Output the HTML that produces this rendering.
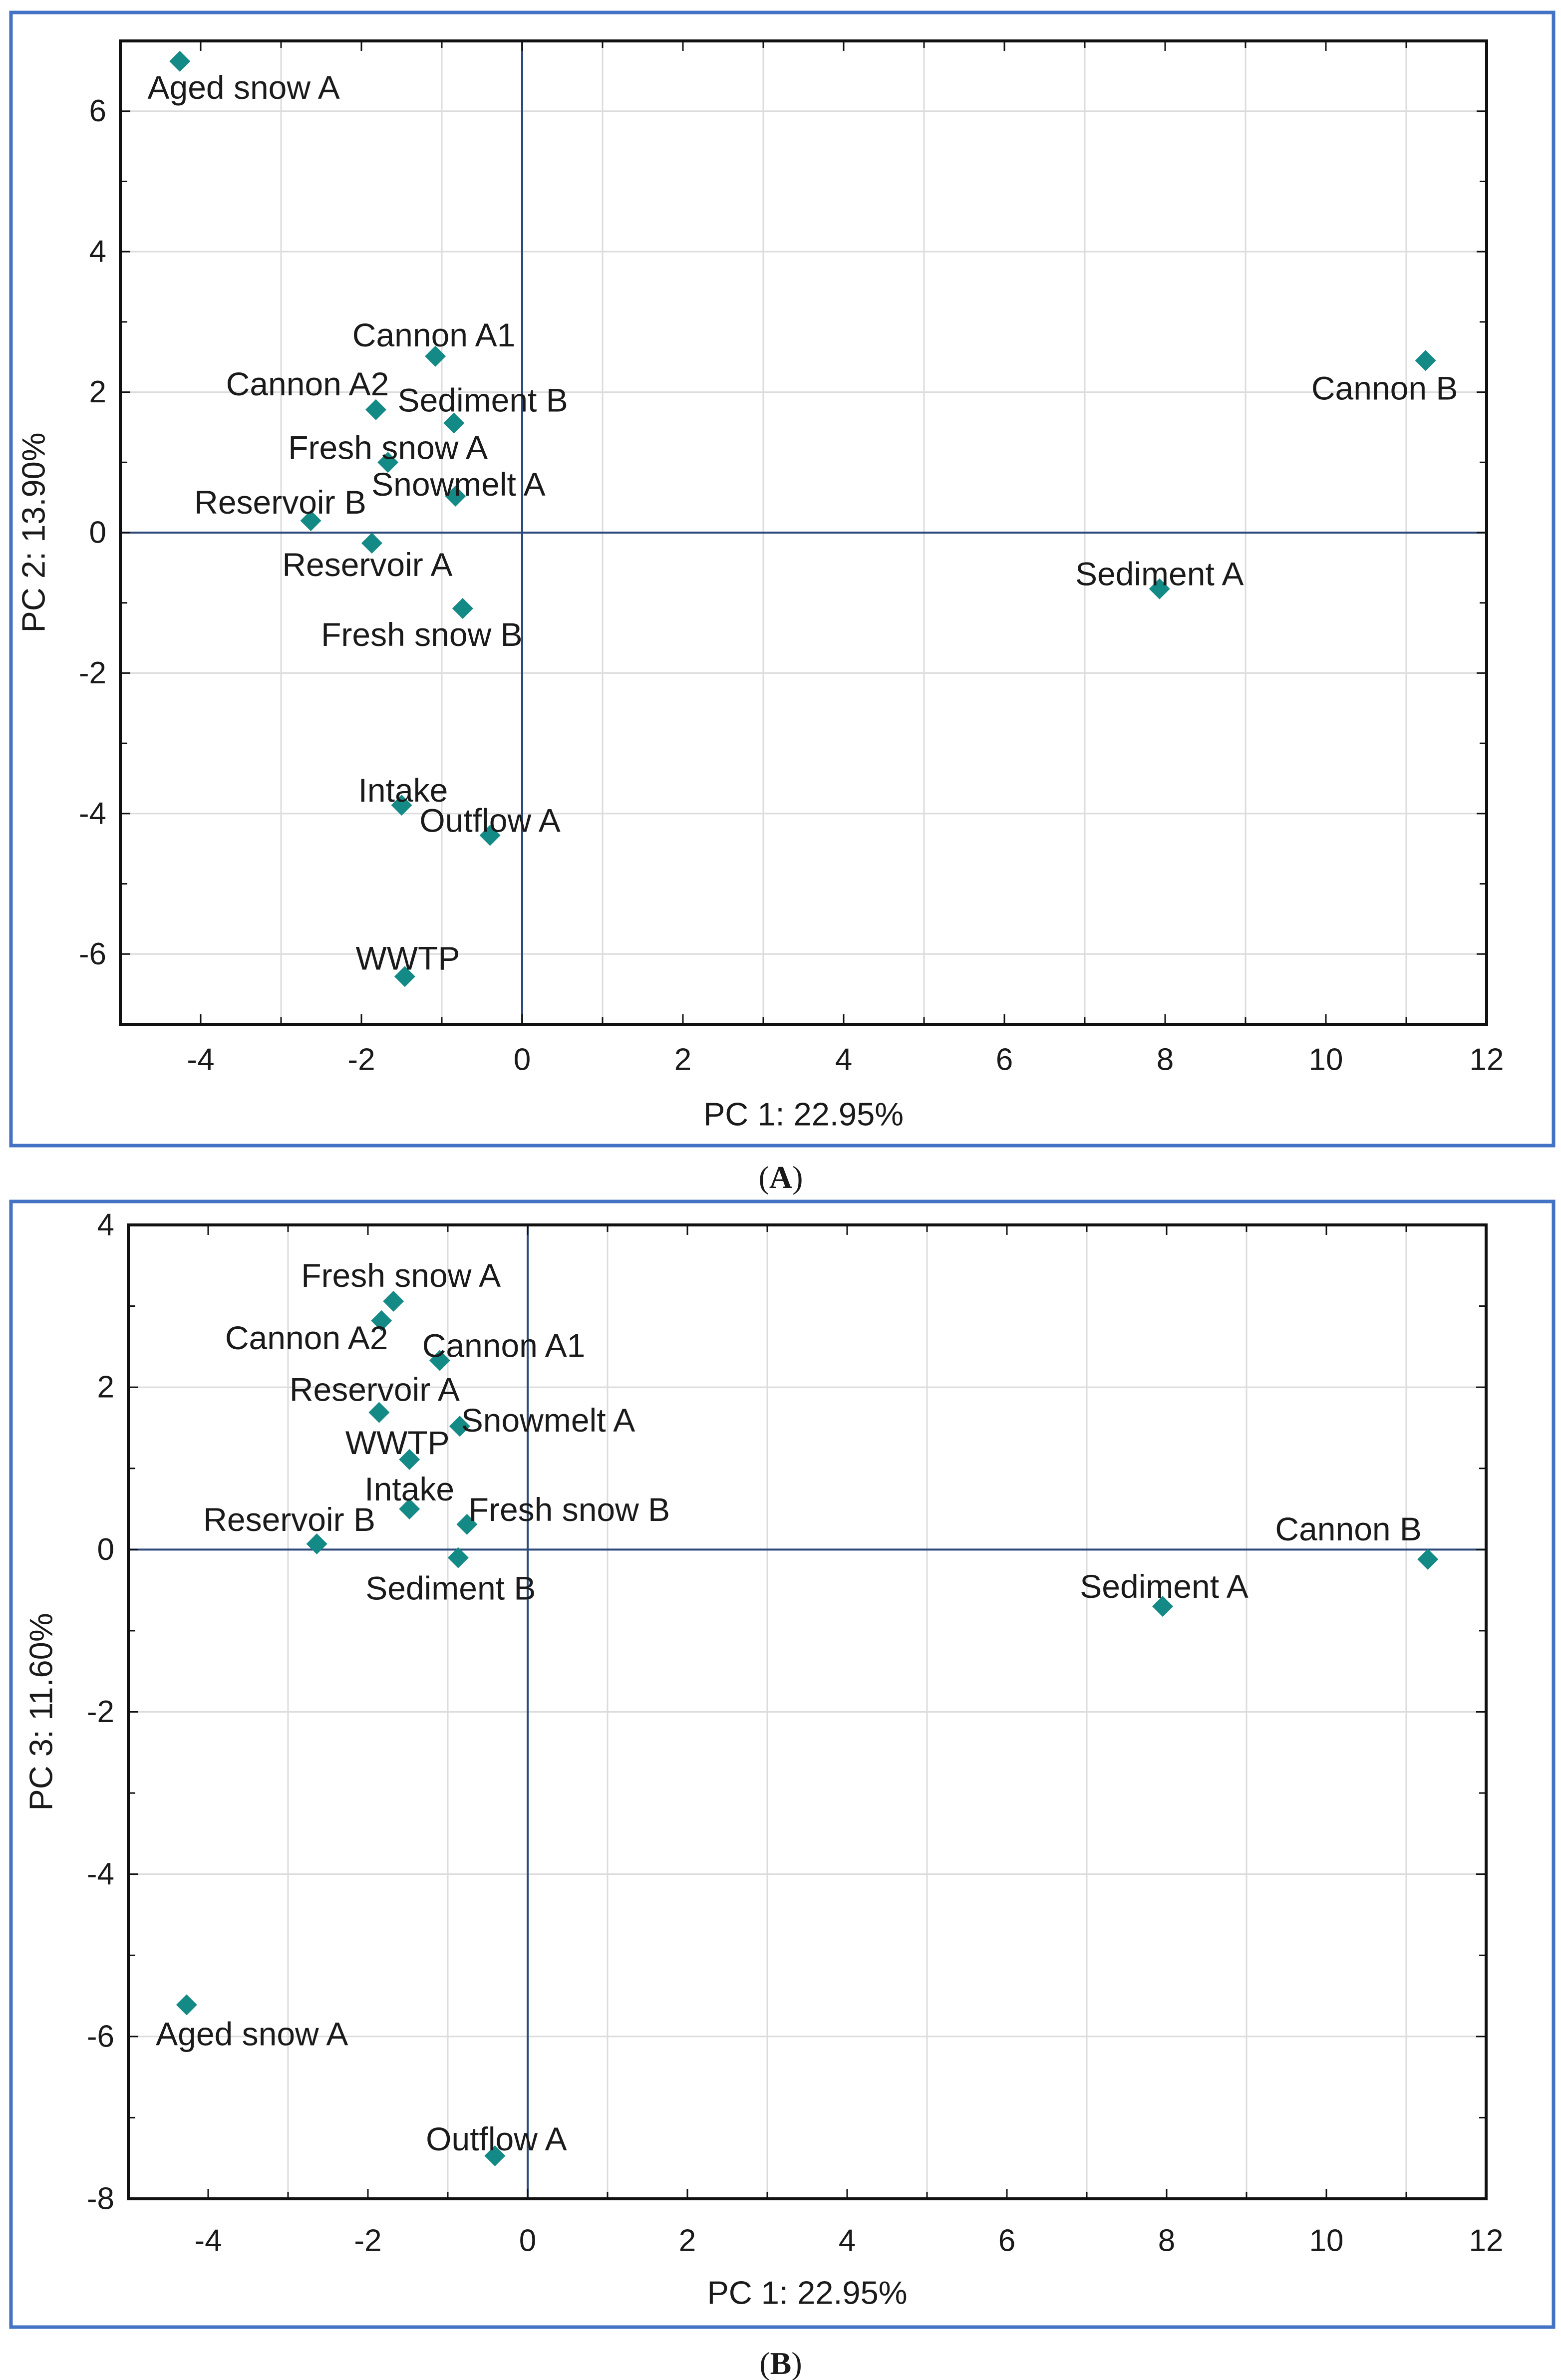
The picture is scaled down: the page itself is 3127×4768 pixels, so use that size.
<!DOCTYPE html>
<html><head><meta charset="utf-8">
<style>
html,body{margin:0;padding:0;background:#fff;}
svg{display:block;}
text{font-family:"Liberation Sans",Arial,sans-serif;fill:#1a1a1a;}
</style></head>
<body>
<svg id="fig" width="3127" height="4768" viewBox="0 0 3127 4768" xmlns="http://www.w3.org/2000/svg">
<rect x="22" y="25" width="3090" height="2270" fill="#fff" stroke="#4472c4" stroke-width="7"/>
<rect x="22" y="2407" width="3090" height="2255" fill="#fff" stroke="#4472c4" stroke-width="7"/>
<text x="1564" y="2380" text-anchor="middle" font-size="64" style="font-family:'Liberation Serif',serif">(<tspan font-weight="bold">A</tspan>)</text>
<text x="1564" y="4756" text-anchor="middle" font-size="64" style="font-family:'Liberation Serif',serif">(<tspan font-weight="bold">B</tspan>)</text>
<g id="chartA"></g>
<g id="chartB"></g>
</svg>
<script>
// ---- Panel A data (PC1 vs PC2) ----
const namesA = ["Aged snow A","Cannon A1","Cannon A2","Sediment B","Fresh snow A","Snowmelt A","Reservoir B","Reservoir A","Fresh snow B","Intake","Outflow A","WWTP","Cannon B","Sediment A"];
const pc1A = [-4.26,-1.08,-1.82,-0.85,-1.67,-0.83,-2.63,-1.87,-0.74,-1.50,-0.40,-1.46,11.24,7.93];
const pc2A = [6.71,2.51,1.75,1.56,1.00,0.52,0.17,-0.15,-1.08,-3.88,-4.31,-6.32,2.45,-0.80];
const xTicksA = [-4,-2,0,2,4,6,8,10,12];
const yTicksA = [-6,-4,-2,0,2,4,6];
// ---- Panel B data (PC1 vs PC3) ----
const namesB = ["Fresh snow A","Cannon A2","Cannon A1","Reservoir A","Snowmelt A","WWTP","Intake","Fresh snow B","Reservoir B","Sediment B","Cannon B","Sediment A","Aged snow A","Outflow A"];
const pc1B = [-1.68,-1.83,-1.10,-1.86,-0.85,-1.48,-1.48,-0.76,-2.64,-0.87,11.27,7.95,-4.27,-0.41];
const pc3B = [3.06,2.82,2.33,1.69,1.52,1.11,0.50,0.31,0.07,-0.10,-0.12,-0.70,-5.61,-7.47];
const xTicksB = [-4,-2,0,2,4,6,8,10,12];
const yTicksB = [-8,-6,-4,-2,0,2,4];

// label offsets (px) relative to markers — layout only
const offA = [[128,52],[-3,-43],[-137,-52],[58,-46],[0,-30],[6,-24],[-61,-37],[-9,43],[-82,52],[3,-30],[0,-30],[6,-37],[-82,55],[0,-30]];
const offB = [[15,-52],[-150,34],[128,-30],[-9,-46],[177,-12],[-24,-34],[0,-40],[205,-30],[-55,-49],[-15,61],[-159,-61],[3,-40],[131,58],[3,-34]];

const NS="http://www.w3.org/2000/svg";
function mk(parent,tag,attrs){const e=document.createElementNS(NS,tag);for(const k in attrs)e.setAttribute(k,attrs[k]);parent.appendChild(e);return e;}

function drawChart(g, cfg){
  const {L,R,T,B,xmin,xmax,ymin,ymax,xTicks,yTicks,names,xs,ys,offs,xTitle,yTitle,yTitleX,xLabY,xTitleY,tag} = cfg;
  const sx=v=>L+(v-xmin)/(xmax-xmin)*(R-L);
  const sy=v=>B-(v-ymin)/(ymax-ymin)*(B-T);
  for(let v=Math.ceil(xmin);v<=xmax;v+=2){ if(v===0) continue;
    const l=mk(g,'line',{x1:sx(v),x2:sx(v),y1:T,y2:B,stroke:'#dcdcdc','stroke-width':3});
    
    
  }
  for(let v=Math.ceil(ymin);v<=ymax;v++){ if(v%2!==0||v===0) continue;
    const l=mk(g,'line',{x1:L,x2:R,y1:sy(v),y2:sy(v),stroke:'#dcdcdc','stroke-width':3});
    
    
  }
  const zx=mk(g,'line',{x1:sx(0),x2:sx(0),y1:T,y2:B,stroke:'#2d4a7a','stroke-width':4});
  
  
  const zy=mk(g,'line',{x1:L,x2:R,y1:sy(0),y2:sy(0),stroke:'#2d4a7a','stroke-width':4});
  
  
  const fr=mk(g,'rect',{x:L,y:T,width:R-L,height:B-T,fill:'none',stroke:'#111','stroke-width':6});
  
  
  for(let v=Math.ceil(xmin);v<=xmax;v++){
    const len=(v%2===0)?20:14;
    mk(g,'line',{x1:sx(v),x2:sx(v),y1:B,y2:B-len,stroke:'#111','stroke-width':3});
    mk(g,'line',{x1:sx(v),x2:sx(v),y1:T,y2:T+len,stroke:'#111','stroke-width':3});
  }
  for(let v=Math.ceil(ymin);v<=ymax;v++){
    const len=(v%2===0)?20:14;
    mk(g,'line',{x1:L,x2:L+len,y1:sy(v),y2:sy(v),stroke:'#111','stroke-width':3});
    mk(g,'line',{x1:R,x2:R-len,y1:sy(v),y2:sy(v),stroke:'#111','stroke-width':3});
  }
  xTicks.forEach(v=>{
    const t=mk(g,'text',{x:sx(v),y:xLabY,'text-anchor':'middle','font-size':62,'dominant-baseline':'central'});
    t.textContent=(v<0?'-':'')+Math.abs(v);
    
    
  });
  yTicks.forEach(v=>{
    const t=mk(g,'text',{x:L-28,y:sy(v),'text-anchor':'end','font-size':62,'dominant-baseline':'central'});
    t.textContent=(v<0?'-':'')+Math.abs(v);
    
    
  });
  const xt=mk(g,'text',{x:(L+R)/2,y:xTitleY,'text-anchor':'middle','font-size':65,'dominant-baseline':'central'});
  xt.textContent=xTitle;
  
  
  const cy=(T+B)/2;
  const yt=mk(g,'text',{x:yTitleX,y:cy,'text-anchor':'middle','font-size':65,'dominant-baseline':'central',transform:`rotate(-90 ${yTitleX} ${cy})`});
  yt.textContent=yTitle;
  
  
  names.forEach((n,i)=>{
    const px=sx(xs[i]), py=sy(ys[i]), s=21;
    const d=mk(g,'polygon',{points:`${px},${py-s} ${px+s},${py} ${px},${py+s} ${px-s},${py}`,fill:'#148a86'});
    
    
    const t=mk(g,'text',{x:px+offs[i][0],y:py+offs[i][1],'text-anchor':'middle','font-size':66,'dominant-baseline':'central'});
    t.textContent=n;
    
    
  });
}

drawChart(document.getElementById('chartA'),{L:241,R:2978,T:82,B:2052,xmin:-5,xmax:12,ymin:-7,ymax:7,
  xTicks:xTicksA,yTicks:yTicksA,names:namesA,xs:pc1A,ys:pc2A,offs:offA,
  xTitle:'PC 1: 22.95%',yTitle:'PC 2: 13.90%',yTitleX:67,xLabY:2123,xTitleY:2232,tag:'a'});
drawChart(document.getElementById('chartB'),{L:257,R:2977,T:2454,B:4405,xmin:-5,xmax:12,ymin:-8,ymax:4,
  xTicks:xTicksB,yTicks:yTicksB,names:namesB,xs:pc1B,ys:pc3B,offs:offB,
  xTitle:'PC 1: 22.95%',yTitle:'PC 3: 11.60%',yTitleX:82,xLabY:4489,xTitleY:4593,tag:'b'});
</script>
</body></html>
